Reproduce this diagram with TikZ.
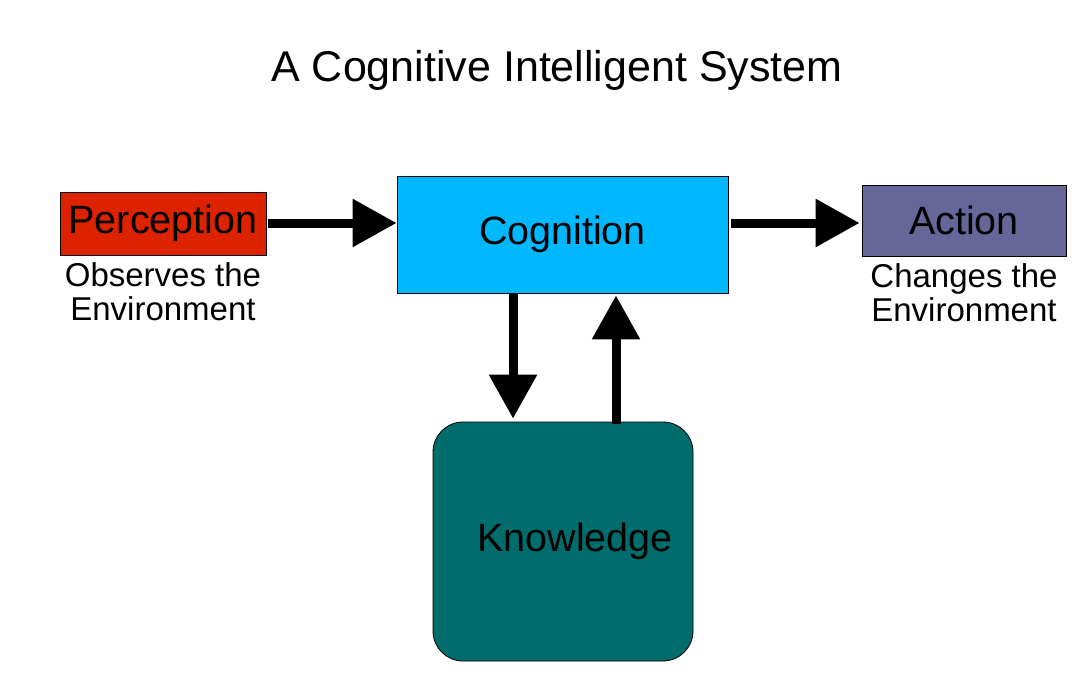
\documentclass[tikz,border=0pt]{standalone}
\usepackage{fontspec}
\setmainfont{Liberation Sans}
\usetikzlibrary{arrows.meta}

\definecolor{percred}{RGB}{221,34,0}
\definecolor{cogblue}{RGB}{0,184,255}
\definecolor{actpurple}{RGB}{102,102,153}
\definecolor{knowteal}{RGB}{0,108,108}

\begin{document}
\begin{tikzpicture}[x=1pt, y=-1pt,
    box/.style={draw=black, line width=0.8pt, inner sep=0pt, font=\fontsize{39.5}{39.5}\selectfont},
    note/.style={align=center, inner sep=0pt, font=\fontsize{33}{34}\selectfont},
    flow/.style={line width=9pt, -{Triangle[length=44pt, width=46pt]}}]
  \useasboundingbox (0,0) rectangle (1090,674);

  % Title
  \node[anchor=base, font=\fontsize{43}{43}\selectfont] (title) at (557,82) {A Cognitive Intelligent System};

  % Boxes
  \node[box, fill=percred, minimum width=206pt, minimum height=63pt] (perc) at (163,223.5) {Perception};
  \node[box, fill=cogblue, minimum width=331pt, minimum height=117pt] (cog) at (562.5,234.5) {Cognition};
  \node[box, fill=actpurple, minimum width=204pt, minimum height=71pt] (act) at (964,220.5) {Action};
  \node[box, fill=knowteal, rounded corners=30pt, minimum width=260pt, minimum height=239pt,
        label={[font=\fontsize{39.5}{39.5}\selectfont, xshift=12pt]center:Knowledge}] (know) at (563,541.5) {};

  % Notes
  \node[note, anchor=north] (percnote) at ([yshift=-7pt]perc.south) {Observes the\\Environment};
  \node[note, anchor=north] (actnote) at ([yshift=-7pt]act.south) {Changes the\\Environment};

  % Arrows
  \draw[flow] ([xshift=2pt]perc.east |- 0,223) -- (cog.west |- 0,223);
  \draw[flow] ([xshift=3pt]cog.east |- 0,223) -- ([xshift=-2pt]act.west |- 0,223);
  \draw[flow] ([xshift=-49.5pt]cog.south) -- ([xshift=-49.5pt, yshift=3pt]cog.south |- know.north);
  \draw[flow] ([xshift=53.5pt, yshift=-2pt]cog.south |- know.north) -- ([xshift=53.5pt, yshift=-2pt]cog.south);

\end{tikzpicture}
\end{document}
